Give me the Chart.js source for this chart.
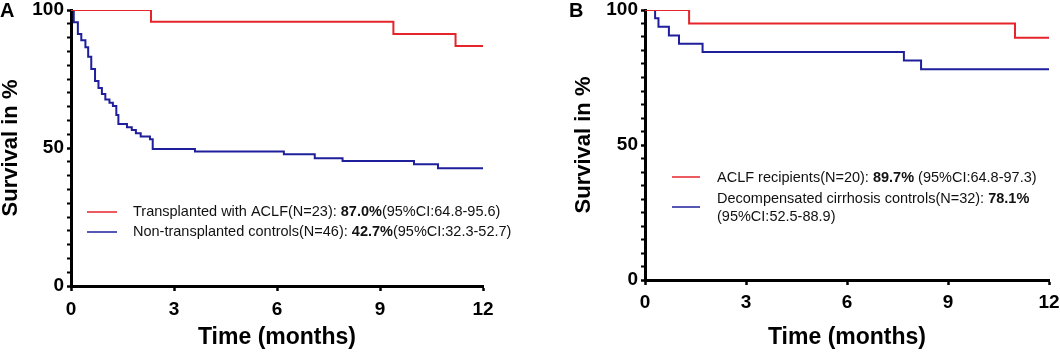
<!DOCTYPE html>
<html><head><meta charset="utf-8">
<script src="https://cdn.jsdelivr.net/npm/chart.js@4.4.1/dist/chart.umd.min.js"></script>
<style>
html,body{margin:0;padding:0;background:#fff;}
#wrap{position:relative;width:1060px;height:354px;overflow:hidden;background:#fff;}
canvas{position:absolute;top:0;}
</style></head><body>
<div id="wrap">
<canvas id="cA" width="530" height="354" style="left:0"></canvas>
<canvas id="cB" width="530" height="354" style="left:530px"></canvas>
</div>
<script>
// ---------- data ----------
const xTicks = [0, 3, 6, 9, 12];
const yTickLabels = [0, 50, 100];
const xTitle = 'Time (months)';
const yTitle = 'Survival in %';

// Panel A
const aTransTime = [0, 2.33, 9.39, 11.20, 12];
const aTransSurv = [100, 95.7, 91.3, 87.0, 87.0];
const aCtrlTime = [0, 0.08, 0.20, 0.30, 0.42, 0.50, 0.59, 0.70, 0.80, 0.90, 1.00, 1.12, 1.22, 1.32, 1.38, 1.63, 1.77, 1.89, 2.03, 2.30, 2.38, 3.61, 6.20, 7.10, 7.91, 9.99, 10.69, 12];
const aCtrlSurv = [100, 95.6, 91.3, 89.0, 86.5, 83.1, 78.6, 74.3, 71.7, 69.6, 67.6, 66.4, 65.2, 62.0, 58.7, 57.5, 56.5, 55.3, 54.2, 53.2, 49.6, 48.7, 47.7, 46.3, 45.3, 44.1, 42.7, 42.7];

// Panel B
const bRecTime = [0, 1.31, 10.99, 12];
const bRecSurv = [100, 95.0, 89.7, 89.7];
const bCtrlTime = [0, 0.30, 0.40, 0.71, 1.01, 1.71, 7.69, 8.20, 12];
const bCtrlSurv = [100, 96.9, 93.8, 90.6, 87.5, 84.4, 81.3, 78.1, 78.1];

const legendA = [
  [["Transplanted with ACLF(N=23): ", false], ["87.0%", true], ["(95%CI:64.8-95.6)", false]],
  [["Non-transplanted controls(N=46): ", false], ["42.7%", true], ["(95%CI:32.3-52.7)", false]]
];
const legendB = [
  [["ACLF recipients(N=20): ", false], ["89.7%", true], [" (95%CI:64.8-97.3)", false]],
  [["Decompensated cirrhosis controls(N=32): ", false], ["78.1%", true]],
  [["(95%CI:52.5-88.9)", false]]
];

// ---------- style ----------
const RED = '#e5252b';
const BLUE = '#1f1f9c';
const FAM = '"Liberation Sans", Arial, Helvetica, sans-serif';

const decor = {
  id: 'decor',
  afterDraw(chart, args, o) {
    const ctx = chart.ctx;
    ctx.save();
    ctx.fillStyle = '#000';
    ctx.font = 'bold 20px ' + FAM;
    ctx.textBaseline = 'alphabetic';
    ctx.textAlign = 'left';
    ctx.fillText(o.letter, o.letterX, o.letterY);
    o.symbols.forEach(s => {
      ctx.strokeStyle = s.color;
      ctx.lineWidth = 1.5;
      ctx.beginPath();
      ctx.moveTo(s.x1, s.y); ctx.lineTo(s.x2, s.y);
      ctx.stroke();
    });
    ctx.textBaseline = 'middle';
    o.rows.forEach((r, i) => {
      let x = o.textX;
      r.forEach(seg => {
        ctx.font = (seg[1] ? 'bold ' : '') + o.fontSize + 'px ' + FAM;
        ctx.fillStyle = '#111';
        ctx.fillText(seg[0], x, o.rowY[i]);
        x += ctx.measureText(seg[0]).width;
      });
    });
    ctx.restore();
  }
};

function mk(id, series, geo, dec) {
  return new Chart(document.getElementById(id), {
    type: 'line',
    data: {
      datasets: series.map(s => ({
        data: s.t.map((t, i) => ({x: t, y: s.v[i]})),
        borderColor: s.color,
        borderWidth: 2,
        stepped: 'before',
        pointRadius: 0,
        fill: false
      }))
    },
    options: {
      responsive: false,
      animation: false,
      devicePixelRatio: 1,
      layout: {padding: {left: 0, right: geo.right, top: geo.top, bottom: 0}},
      plugins: {legend: {display: false}, tooltip: {enabled: false}, decor: dec},
      scales: {
        x: {
          type: 'linear', min: 0, max: 12,
          afterBuildTicks: s => { s.ticks = xTicks.map(v => ({value: v})); },
          afterFit: s => { s.height = geo.xH; s.paddingLeft = 0; s.paddingRight = 0; },
          ticks: {color: '#000', padding: geo.xPad, font: {family: FAM, size: 19, weight: 'bold'}, maxRotation: 0},
          grid: {drawOnChartArea: false, drawTicks: true, tickLength: 5, tickWidth: 2.5, tickColor: '#000'},
          border: {display: true, width: 3, color: '#000'},
          title: {display: true, text: xTitle, color: '#000', font: {family: FAM, size: 23, weight: 'bold', lineHeight: 1}, padding: {top: 0, bottom: 5}}
        },
        y: {
          type: 'linear', min: 0, max: 100,
          ticks: {stepSize: 5, autoSkip: false, color: '#000', padding: 3,
            font: {family: FAM, size: 19, weight: 'bold', lineHeight: 1},
            callback: v => yTickLabels.includes(v) ? String(v) : ''},
          afterFit: s => { s.width = geo.yW; s.paddingTop = 0; s.paddingBottom = 0; },
          grid: {drawOnChartArea: false, drawTicks: true, tickLength: 4,
            tickWidth: c => (c.tick && yTickLabels.includes(c.tick.value)) ? 2.5 : 2, tickColor: '#000'},
          border: {display: true, width: 3, color: '#000'},
          title: {display: true, text: yTitle, color: '#000', font: {family: FAM, size: 22, weight: 'bold', lineHeight: 1}, padding: {top: geo.yTitlePad, bottom: 0}}
        }
      }
    },
    plugins: [decor]
  });
}

mk('cA',
  [{t: aTransTime, v: aTransSurv, color: RED}, {t: aCtrlTime, v: aCtrlSurv, color: BLUE}],
  {right: 47, top: 10, xH: 68, yW: 71, yTitlePad: 0, xPad: 7},
  {letter: 'A', letterX: 0, letterY: 17,
   symbols: [{color: RED, x1: 87, x2: 117, y: 212}, {color: BLUE, x1: 87, x2: 117, y: 232}],
   textX: 133, rowY: [212, 232], rows: legendA, fontSize: 14.5});

mk('cB',
  [{t: bRecTime, v: bRecSurv, color: RED}, {t: bCtrlTime, v: bCtrlSurv, color: BLUE}],
  {right: 11, top: 10, xH: 74, yW: 115, yTitlePad: 43, xPad: 6},
  {letter: 'B', letterX: 39, letterY: 17,
   symbols: [{color: RED, x1: 142, x2: 170, y: 177}, {color: BLUE, x1: 142, x2: 170, y: 207}],
   textX: 187, rowY: [178, 199, 217], rows: legendB, fontSize: 14.5});
</script>
</body></html>
